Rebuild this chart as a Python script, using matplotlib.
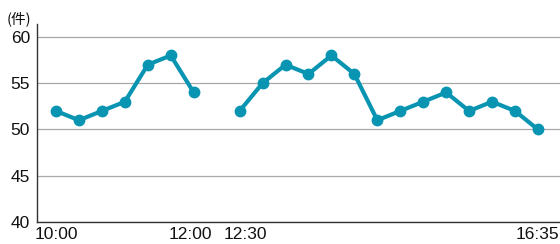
import numpy as np
import matplotlib
matplotlib.use('Agg')
import matplotlib.pyplot as plt
import matplotlib.transforms as mtransforms

# 件数の推移 (10:00-12:00, 12:30-16:35)
morning = [52, 51, 52, 53, 57, 58, 54]
afternoon = [52, 55, 57, 56, 58, 56, 51, 52, 53, 54, 52, 53, 52, 50]
tick_labels = ['10:00', '12:00', '12:30', '16:35']
y_ticks = [40, 45, 50, 55, 60]

# 欠測を一つ挟んで一本の系列にする
values = morning + [np.nan] + afternoon
x = np.arange(len(values))
tick_pos = [0, len(morning) - 1, len(morning) + 1, len(values) - 1]

plt.rcParams['font.family'] = ['Liberation Sans', 'DejaVu Sans']

fig = plt.figure(figsize=(5.6, 2.44), dpi=100)
ax = fig.add_axes([0.066, 0.0902, 0.934, 0.8114])

ax.plot(x, values, color='#0995b2', linewidth=3, marker='o', markersize=7.5,
        solid_joinstyle='round', solid_capstyle='round', zorder=3)

ax.set_xlim(-0.83, 21.96)
ax.set_ylim(40, 61.4)
ax.set_yticks(y_ticks)
ax.set_xticks(tick_pos)
ax.set_xticklabels(tick_labels)
ax.tick_params(length=0, labelsize=12.5, colors='#111111')
ax.tick_params(axis='y', pad=5)
ax.tick_params(axis='x', pad=3.5)

# 12:00 / 12:30 が重ならないよう少しずらす
shifts = [0, -3, 6, -1]
for lab, dx in zip(ax.get_xticklabels(), shifts):
    off = mtransforms.ScaledTranslation(dx / 100, 0, fig.dpi_scale_trans)
    lab.set_transform(lab.get_transform() + off)

ax.grid(axis='y', color='#a8a8a8', linewidth=0.9)
ax.set_axisbelow(True)
for side in ['top', 'right']:
    ax.spines[side].set_visible(False)
for side in ['left', 'bottom']:
    ax.spines[side].set_color('#333333')
    ax.spines[side].set_linewidth(1.0)

fig.text(0.012, 0.922, '(件)', fontsize=10.5,
         family=['Noto Sans CJK JP', 'DejaVu Sans'], color='#111111',
         va='center', ha='left')

fig.savefig('out.png', dpi=100)
